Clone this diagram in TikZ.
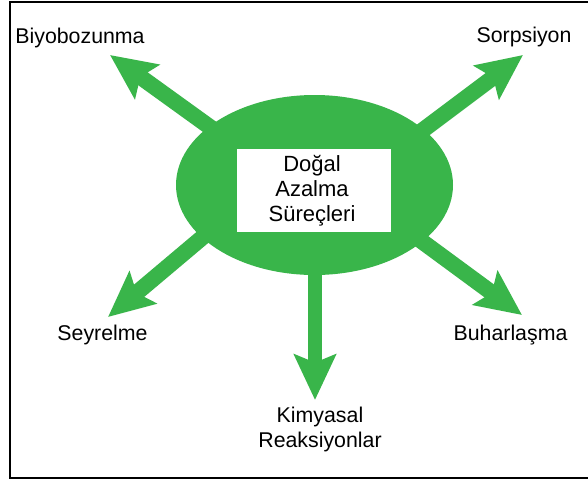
\documentclass[tikz,border=0pt]{standalone}
\usepackage{fontspec}
\setmainfont{Liberation Sans}
\usetikzlibrary{arrows.meta,shapes.geometric}
\definecolor{grn}{RGB}{57,181,74}
\begin{document}
\begin{tikzpicture}[x=0.75pt,y=-0.75pt,
  arr/.style={draw=grn, line width=12pt, -{Stealth[length=34pt,width=31pt,inset=6pt]}},
  lbl/.style={inner sep=0pt, anchor=base, font=\fontsize{16}{18.75}\selectfont},
  frame/.style={draw=black, line width=1.6pt}]
\useasboundingbox (0,0) rectangle (588,482);
\clip (0,0) rectangle (588,482);
\fill[white] (0,0) rectangle (588,482);
\draw[frame] (600,2) -- (10,2) -- (10,478) -- (600,478);
% arrow anchors (shaft starts hidden under the ellipse)
\coordinate (s1) at (250,156);
\coordinate (t1) at (110,55);
\coordinate (s2) at (383,160);
\coordinate (t2) at (523,55);
\coordinate (s3) at (248,199);
\coordinate (t3) at (108,317);
\coordinate (s4) at (382,212);
\coordinate (t4) at (522,315);
\coordinate (s5) at (315,250);
\coordinate (t5) at (315,400);
\draw[arr] (s1) -- (t1);
\draw[arr] (s2) -- (t2);
\draw[arr] (s3) -- (t3);
\draw[arr] (s4) -- (t4);
\draw[arr, line width=10.5pt] (s5) -- (t5);
\node (ell) [ellipse, fill=grn, draw=none, minimum width=207.75pt, minimum height=135pt, inner sep=0pt] at (314.5,185) {};
\node (box) [fill=white, draw=none, minimum width=115.5pt, minimum height=62.25pt, inner sep=0pt] at (314,190.5) {};
\node (ctext) [inner sep=0pt, anchor=base, align=center, font=\fontsize{16.5}{18.75}\selectfont] at (312,221) {Doğal\\Azalma\\Süreçleri};
\node[lbl] (bio) at (80,43) {Biyobozunma};
\node[lbl] (sor) at (524,42) {Sorpsiyon};
\node[lbl] (sey) at (102.5,340) {Seyrelme};
\node[lbl] (buh) at (510.5,340) {Buharlaşma};
\node[lbl, align=center] (kim) at (320,447) {Kimyasal\\Reaksiyonlar};
\end{tikzpicture}
\end{document}
